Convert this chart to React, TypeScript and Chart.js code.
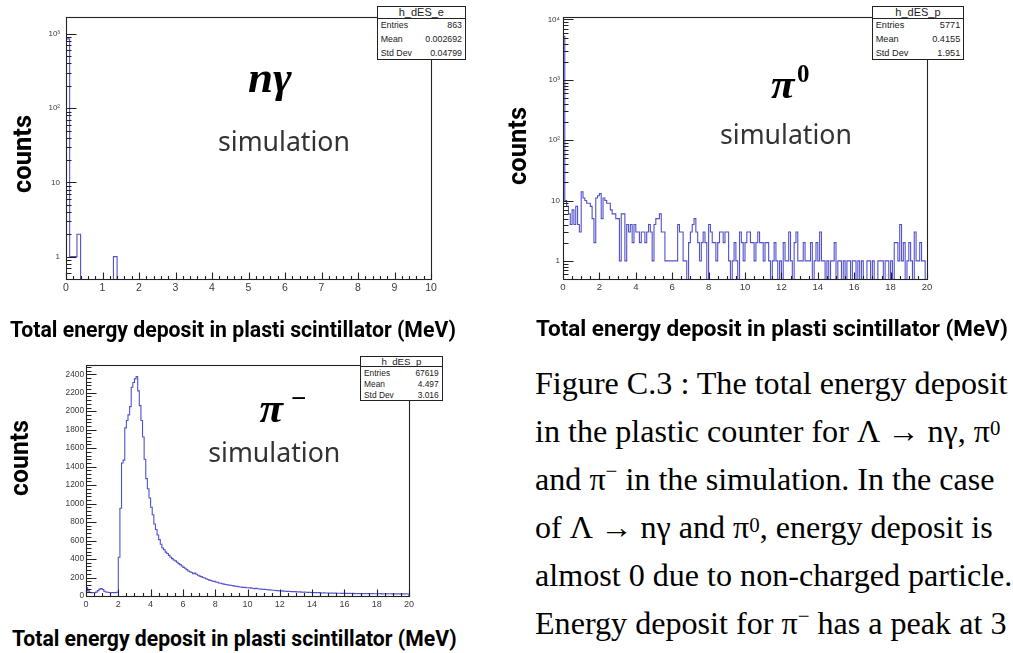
import React, { useEffect, useRef } from 'react';
import { Chart, registerables } from 'chart.js';

Chart.register(...registerables);

// ------------------------------------------------------------------ data
const BIN_WIDTH = 0.1;

// Λ → nγ : 100 bins of 0.1 MeV, only a few bins are filled
const NG_NBINS = 100;
const NG_FILLED_BINS = [0, 1, 2, 3, 13];
const NG_FILLED_COUNTS = [858, 1, 1, 2, 1];

// π0 : 200 bins of 0.1 MeV
const PI0_COUNTS = [
  5280, 10, 8, 6, 4, 7, 4, 8, 4, 3,
  14, 11, 10, 9, 9, 8, 5, 2, 11, 12,
  13, 5, 11, 10, 9, 9, 7, 6, 6, 5,
  5, 1, 6, 6, 1, 4, 3, 4, 2, 4,
  3, 3, 2, 3, 3, 2, 3, 4, 3, 1,
  4, 5, 5, 6, 3, 3, 1, 1, 1, 1,
  1, 1, 1, 4, 3, 3, 1, 1, 0, 2,
  3, 4, 5, 3, 2, 1, 2, 3, 2, 0,
  4, 3, 2, 2, 1, 2, 3, 3, 2, 3,
  3, 1, 0, 1, 2, 1, 0, 3, 2, 1,
  2, 3, 3, 2, 2, 1, 2, 3, 2, 2,
  1, 2, 2, 1, 0, 1, 2, 1, 0, 1,
  0, 2, 1, 1, 3, 1, 0, 2, 3, 1,
  1, 1, 2, 1, 1, 1, 2, 0, 1, 2,
  1, 3, 1, 1, 0, 1, 0, 1, 1, 2,
  0, 1, 1, 0, 1, 0, 1, 1, 0, 1,
  1, 0, 1, 0, 1, 0, 0, 1, 1, 0,
  1, 0, 0, 1, 1, 1, 0, 1, 1, 0,
  1, 0, 2, 2, 1, 4, 1, 2, 0, 1,
  2, 1, 0, 3, 1, 1, 2, 1, 1, 0,
];

// π− : 200 bins of 0.1 MeV
const PIM_COUNTS = [
  92, 55, 40, 36, 38, 36, 42, 58, 74, 80,
  70, 52, 44, 40, 38, 36, 38, 36, 37, 40,
  420, 950, 1440, 1470, 1820, 1900, 1960, 2050, 2260, 2310,
  2350, 2375, 2220, 2060, 1900, 1720, 1480, 1270, 1160, 1060,
  960, 880, 780, 720, 660, 610, 560, 520, 500, 475,
  460, 440, 420, 405, 390, 380, 365, 350, 340, 325,
  310, 300, 285, 270, 262, 255, 240, 248, 236, 225,
  215, 210, 200, 195, 186, 178, 172, 168, 160, 158,
  152, 148, 141, 138, 132, 128, 125, 122, 118, 116,
  114, 110, 105, 104, 100, 98, 96, 92, 93, 90,
  90, 88, 85, 84, 80, 82, 78, 76, 74, 73,
  72, 70, 68, 66, 65, 63, 62, 60, 58, 57,
  55, 56, 53, 52, 50, 51, 48, 47, 46, 47,
  45, 44, 45, 42, 41, 42, 40, 39, 40, 38,
  37, 38, 36, 35, 36, 34, 33, 34, 32, 33,
  32, 31, 32, 30, 31, 29, 30, 29, 28, 30,
  28, 29, 27, 28, 27, 28, 26, 27, 26, 27,
  26, 25, 27, 25, 26, 24, 25, 26, 24, 25,
  25, 24, 26, 23, 25, 24, 23, 25, 24, 23,
  24, 23, 22, 24, 23, 22, 23, 22, 24, 22,
];

// axis ticks
const NG_X_TICKS = [0, 1, 2, 3, 4, 5, 6, 7, 8, 9, 10];
const NG_X_LABELS = ['0', '1', '2', '3', '4', '5', '6', '7', '8', '9', '10'];
const PI_X_TICKS = [0, 2, 4, 6, 8, 10, 12, 14, 16, 18, 20];
const PI_X_LABELS = ['0', '2', '4', '6', '8', '10', '12', '14', '16', '18', '20'];
const NG_Y_TICKS = [1, 10, 100, 1000];
const NG_Y_LABELS = ['1', '10', '10²', '10³'];
const PI0_Y_TICKS = [1, 10, 100, 1000, 10000];
const PI0_Y_LABELS = ['1', '10', '10²', '10³', '10⁴'];
const PIM_Y_TICKS = [0, 200, 400, 600, 800, 1000, 1200, 1400, 1600, 1800, 2000, 2200, 2400];
const PIM_Y_LABELS = ['0', '200', '400', '600', '800', '1000', '1200', '1400', '1600', '1800', '2000', '2200', '2400'];

// statistics boxes
const STAT_LABELS = ['Entries', 'Mean', 'Std Dev'];
const NG_STATS = ['863', '0.002692', '0.04799'];
const PI0_STATS = ['5771', '0.4155', '1.951'];
const PIM_STATS = ['67619', '4.497', '3.016'];

// texts
const X_TITLE = 'Total energy deposit in plasti scintillator (MeV)';
const Y_TITLE = 'counts';
const SIM_TEXT = 'simulation';

// ------------------------------------------------------------------ helpers
const SANS = '"Liberation Sans", Arial, sans-serif';
const SERIF = '"Liberation Serif", "Times New Roman", serif';
const BOLD_SANS = 'Roboto, "Liberation Sans", sans-serif';
const SIM_FONT = '"Noto Sans", "Liberation Sans", sans-serif';

const measureCtx: any = document.createElement('canvas').getContext('2d');
function measure(text: string, style: string, weight: any, size: number, fam: string) {
  measureCtx.font = `${style} ${weight} ${size}px ${fam}`;
  const m = measureCtx.measureText(text);
  const a = m.fontBoundingBoxAscent ?? size * 0.9;
  const d = m.fontBoundingBoxDescent ?? size * 0.22;
  return { w: m.width, a, d };
}
function fitSize(text: string, style: string, weight: any, fam: string, width: number) {
  const m = measure(text, style, weight, 100, fam);
  return (100 * width) / m.w;
}

function Txt(p: any) {
  const weight = p.weight ?? 'normal';
  const style = p.italic ? 'italic' : 'normal';
  const fam = p.family;
  let size = p.size ?? 16;
  if (p.fitW) size = fitSize(p.text, style, weight, fam, p.fitW);
  const m = measure(p.text, style, weight, size, fam);
  const baseOff = (size - (m.a + m.d)) / 2 + m.a;
  const align = p.align ?? 'left';
  const left = align === 'left' ? 0 : align === 'center' ? -m.w / 2 : -m.w;
  return (
    <div
      style={{
        position: 'absolute', left: p.x, top: p.y, width: 0, height: 0,
        transform: p.rotate ? `rotate(${p.rotate}deg)` : undefined, transformOrigin: '0 0',
      }}
    >
      <div
        style={{
          position: 'absolute', left, top: -baseOff, fontFamily: fam, fontSize: size,
          fontWeight: weight, fontStyle: style, lineHeight: `${size}px`, whiteSpace: 'nowrap',
          color: p.color ?? '#000',
        }}
      >
        {p.children ?? p.text}
      </div>
    </div>
  );
}

function Sup({ c, raise }: any) {
  return (
    <span style={{ fontSize: '0.65em', position: 'relative', top: `-${raise}em`, lineHeight: 0 }}>{c}</span>
  );
}

function histPoints(counts: number[], x0: number, bw: number, floor: number) {
  const pts: any[] = [{ x: x0, y: floor }];
  counts.forEach((c, i) => pts.push({ x: x0 + i * bw, y: c > 0 ? c : floor }));
  const xEnd = x0 + counts.length * bw;
  const last = counts[counts.length - 1];
  pts.push({ x: xEnd, y: last > 0 ? last : floor });
  pts.push({ x: xEnd, y: floor });
  return pts;
}

function ngCounts() {
  const arr = new Array(NG_NBINS).fill(0);
  NG_FILLED_BINS.forEach((b, i) => { arr[b] = NG_FILLED_COUNTS[i]; });
  return arr;
}

const PADL = 70, PADT = 12, PADR = 12, PADB = 28;
const LINE_COLOR = 'rgba(62,62,200,0.9)';

function rootAxesPlugin(cfg: any) {
  return {
    id: 'rootAxes',
    afterDatasetsDraw(chart: any) {
      const { ctx, chartArea: a, scales } = chart;
      const xs = scales.x, ys = scales.y;
      ctx.save();
      ctx.strokeStyle = '#222';
      ctx.lineWidth = 1.1;
      ctx.strokeRect(Math.round(a.left) + 0.5, Math.round(a.top) + 0.5,
        Math.round(a.right - a.left), Math.round(a.bottom - a.top));
      ctx.beginPath();
      const bottom = Math.round(a.bottom) + 0.5;
      const leftX = Math.round(a.left) + 0.5;
      // x ticks (inside, from bottom)
      const nMinor = Math.round((cfg.xMax - cfg.xMin) / cfg.xMinorStep);
      for (let i = 0; i <= nMinor; i++) {
        const v = cfg.xMin + i * cfg.xMinorStep;
        const major = cfg.xTicks.some((t: number) => Math.abs(t - v) < 1e-6);
        const px = Math.round(xs.getPixelForValue(v)) + 0.5;
        ctx.moveTo(px, bottom);
        ctx.lineTo(px, bottom - (major ? 7 : 3.5));
      }
      // y ticks (inside, from left)
      const yMinor: number[] = [];
      if (cfg.yType === 'logarithmic') {
        const e0 = Math.floor(Math.log10(cfg.yMin));
        const e1 = Math.ceil(Math.log10(cfg.yMax));
        for (let e = e0; e <= e1; e++) {
          for (let k = 2; k <= 9; k++) {
            const v = k * Math.pow(10, e);
            if (v >= cfg.yMin && v <= cfg.yMax) yMinor.push(v);
          }
        }
      } else {
        for (let v = cfg.yMin; v <= cfg.yMax + 1e-6; v += cfg.yMinorStep) {
          if (!cfg.yTicks.includes(v)) yMinor.push(v);
        }
      }
      cfg.yTicks.forEach((v: number) => {
        const py = Math.round(ys.getPixelForValue(v)) + 0.5;
        ctx.moveTo(leftX, py);
        ctx.lineTo(leftX + 10, py);
      });
      yMinor.forEach((v) => {
        const py = Math.round(ys.getPixelForValue(v)) + 0.5;
        ctx.moveTo(leftX, py);
        ctx.lineTo(leftX + 5, py);
      });
      ctx.stroke();
      ctx.restore();
    },
  };
}

function HistPanel({ cfg }: any) {
  const ref = useRef<HTMLCanvasElement>(null);
  const fw = cfg.frame.r - cfg.frame.l;
  const fh = cfg.frame.b - cfg.frame.t;
  const W = fw + PADL + PADR;
  const H = fh + PADT + PADB;
  useEffect(() => {
    const floor = cfg.yType === 'logarithmic' ? 0.05 : 0;
    const pts = histPoints(cfg.counts, cfg.xMin, BIN_WIDTH, floor);
    const chart = new Chart(ref.current as any, {
      type: 'line',
      data: {
        datasets: [{
          data: pts,
          stepped: 'before',
          borderColor: LINE_COLOR,
          borderWidth: 1.1,
          pointRadius: 0,
          fill: false,
          tension: 0,
        } as any],
      },
      options: {
        animation: false,
        responsive: false,
        events: [],
        layout: { padding: { left: 0, top: PADT, right: PADR, bottom: 0 } },
        plugins: { legend: { display: false }, tooltip: { enabled: false }, title: { display: false } },
        scales: {
          x: {
            type: 'linear', min: cfg.xMin, max: cfg.xMax,
            grid: { display: false, drawTicks: false }, border: { display: false },
            afterBuildTicks: (s: any) => { s.ticks = cfg.xTicks.map((v: number) => ({ value: v })); },
            afterFit: (s: any) => { s.height = PADB; s.paddingLeft = 0; s.paddingRight = 0; },
            ticks: {
              autoSkip: false, maxRotation: 0, minRotation: 0, padding: cfg.xPad, color: '#3a3a3a',
              font: { family: SANS, size: cfg.xFont },
              callback: (_v: any, i: number) => cfg.xLabels[i],
            },
          },
          y: {
            type: cfg.yType, min: cfg.yMin, max: cfg.yMax,
            grid: { display: false, drawTicks: false }, border: { display: false },
            afterBuildTicks: (s: any) => { s.ticks = cfg.yTicks.map((v: number) => ({ value: v })); },
            afterFit: (s: any) => { s.width = PADL; s.paddingTop = 0; s.paddingBottom = 0; },
            ticks: {
              autoSkip: false, padding: cfg.yPad, color: '#3a3a3a',
              font: { family: SANS, size: cfg.yFont },
              callback: (_v: any, i: number) => cfg.yLabels[i],
            },
          },
        },
      } as any,
      plugins: [rootAxesPlugin(cfg)],
    });
    return () => chart.destroy();
  }, []);
  return (
    <canvas
      ref={ref}
      width={W}
      height={H}
      style={{ position: 'absolute', left: cfg.frame.l - PADL, top: cfg.frame.t - PADT, width: W, height: H }}
    />
  );
}

function StatsBox({ box, title, values, titleSize, rowSize }: any) {
  const { l, t, r, b, th } = box;
  const rowH = (b - t - th) / 3;
  return (
    <div
      style={{
        position: 'absolute', left: l, top: t, width: r - l, height: b - t, border: '1px solid #222',
        boxSizing: 'border-box', background: '#fff', fontFamily: SANS, color: '#222',
      }}
    >
      <div
        style={{
          height: th - 1, borderBottom: '1px solid #222', boxSizing: 'border-box', textAlign: 'center',
          fontSize: titleSize, lineHeight: `${th - 2}px`,
        }}
      >
        {title}
      </div>
      {STAT_LABELS.map((k, i) => (
        <div
          key={k}
          style={{
            height: rowH, display: 'flex', justifyContent: 'space-between', alignItems: 'center',
            fontSize: rowSize, padding: '0 3px 0 3px',
          }}
        >
          <span>{k}</span>
          <span>{values[i]}</span>
        </div>
      ))}
    </div>
  );
}

const PANEL_NG = {
  frame: { l: 66, t: 17, r: 431, b: 279 },
  counts: ngCounts(),
  xMin: 0, xMax: 10, xMinorStep: 0.2, xTicks: NG_X_TICKS, xLabels: NG_X_LABELS, xFont: 10.5, xPad: 3,
  yType: 'logarithmic', yMin: 0.5, yMax: 1690, yTicks: NG_Y_TICKS, yLabels: NG_Y_LABELS, yFont: 8, yPad: 6,
};
const PANEL_PI0 = {
  frame: { l: 563, t: 17, r: 927, b: 279 },
  counts: PI0_COUNTS,
  xMin: 0, xMax: 20, xMinorStep: 0.5, xTicks: PI_X_TICKS, xLabels: PI_X_LABELS, xFont: 9.6, xPad: 3,
  yType: 'logarithmic', yMin: 0.5, yMax: 11000, yTicks: PI0_Y_TICKS, yLabels: PI0_Y_LABELS, yFont: 8, yPad: 3,
};
const PANEL_PIM = {
  frame: { l: 86, t: 365, r: 409, b: 596 },
  counts: PIM_COUNTS,
  xMin: 0, xMax: 20, xMinorStep: 0.5, xTicks: PI_X_TICKS, xLabels: PI_X_LABELS, xFont: 9, xPad: 3,
  yType: 'linear', yMin: 0, yMax: 2500, yMinorStep: 40, yTicks: PIM_Y_TICKS, yLabels: PIM_Y_LABELS, yFont: 8.3, yPad: 2,
};

const CAPTION_X = 535;
const CAPTION_BASE = [393.7, 441.7, 489.9, 538.1, 586.3, 634.5];

export default function App() {
  const capSize = fitSize('Figure C.3 : The total energy deposit', 'normal', 'normal', SERIF, 473);
  return (
    <div
      style={{
        position: 'absolute', left: 0, top: 0, width: 1013, height: 653, background: '#fff', overflow: 'hidden',
      }}
    >
      <HistPanel cfg={PANEL_NG} />
      <HistPanel cfg={PANEL_PI0} />
      <HistPanel cfg={PANEL_PIM} />

      <StatsBox box={{ l: 376.7, t: 6, r: 466, b: 60, th: 12.5 }} title="h_dES_e" values={NG_STATS} titleSize={11} rowSize={8.8} />
      <StatsBox box={{ l: 871.7, t: 6, r: 964.3, b: 60, th: 12.5 }} title="h_dES_p" values={PI0_STATS} titleSize={11} rowSize={9.2} />
      <StatsBox box={{ l: 360, t: 356, r: 442.7, b: 401, th: 11 }} title="h_dES_p" values={PIM_STATS} titleSize={9.7} rowSize={8.4} />

      {/* y axis titles */}
      <Txt x={32.3} y={154} rotate={-90} align="center" text={Y_TITLE} family={BOLD_SANS} weight={700} fitW={78} />
      <Txt x={527.3} y={146} rotate={-90} align="center" text={Y_TITLE} family={BOLD_SANS} weight={700} fitW={78} />
      <Txt x={29.3} y={458} rotate={-90} align="center" text={Y_TITLE} family={BOLD_SANS} weight={700} fitW={76} />

      {/* x axis titles */}
      <Txt x={10} y={337} text={X_TITLE} family={BOLD_SANS} weight={700} fitW={446} />
      <Txt x={536} y={336} text={X_TITLE} family={BOLD_SANS} weight={700} fitW={472} />
      <Txt x={12} y={646} text={X_TITLE} family={BOLD_SANS} weight={700} fitW={445} />

      {/* "simulation" labels */}
      <Txt x={218} y={151.7} text={SIM_TEXT} family={SIM_FONT} fitW={132} color="#333" />
      <Txt x={720} y={144} text={SIM_TEXT} family={SIM_FONT} fitW={132} color="#333" />
      <Txt x={208.3} y={462.7} text={SIM_TEXT} family={SIM_FONT} fitW={132} color="#333" />

      {/* particle labels */}
      <Txt x={248} y={92.5} text="nγ" family={SERIF} weight={700} italic size={45} />
      <Txt x={771} y={98.3} text="π" family={SERIF} weight={700} italic size={43} />
      <Txt x={797} y={82} text="0" family={SERIF} weight={700} size={25} />
      <Txt x={259.5} y={421.7} text="π" family={SERIF} weight={700} italic size={43} />
      <Txt x={291} y={407} text="−" family={SERIF} weight={700} size={27} />

      {/* caption */}
      <Txt x={CAPTION_X} y={CAPTION_BASE[0]} text="Figure C.3 : The total energy deposit" family={SERIF} size={capSize} />
      <Txt x={CAPTION_X} y={CAPTION_BASE[1]} text="in the plastic counter for Λ → nγ, π0" family={SERIF} size={capSize}>
        in the plastic counter for Λ → nγ, π<Sup c="0" raise={0.3} />
      </Txt>
      <Txt x={CAPTION_X} y={CAPTION_BASE[2]} text="and π− in the simulation. In the case" family={SERIF} size={capSize}>
        and π<Sup c="−" raise={0.55} /> in the simulation. In the case
      </Txt>
      <Txt x={CAPTION_X} y={CAPTION_BASE[3]} text="of Λ → nγ and π0, energy deposit is" family={SERIF} size={capSize}>
        of Λ → nγ and π<Sup c="0" raise={0.3} />, energy deposit is
      </Txt>
      <Txt x={CAPTION_X} y={CAPTION_BASE[4]} text="almost 0 due to non-charged particle." family={SERIF} size={capSize} />
      <Txt x={CAPTION_X} y={CAPTION_BASE[5]} text="Energy deposit for π− has a peak at 3" family={SERIF} size={capSize}>
        Energy deposit for π<Sup c="−" raise={0.55} /> has a peak at 3
      </Txt>
    </div>
  );
}
